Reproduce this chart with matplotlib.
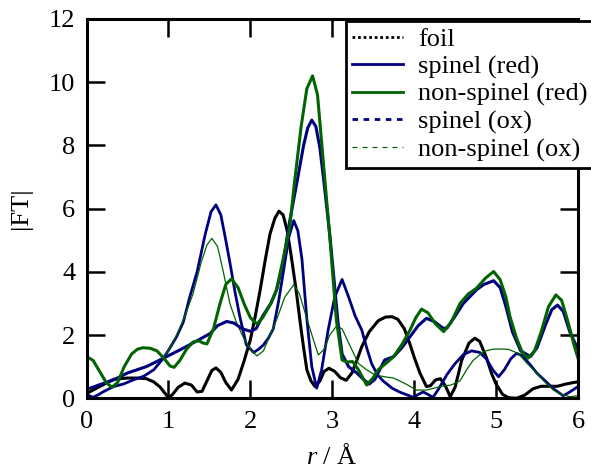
import matplotlib
matplotlib.use("Agg")
import matplotlib.pyplot as plt
from matplotlib.lines import Line2D

# |FT| vs r
r_foil = [0.0, 0.16, 0.33, 0.5, 0.62, 0.73, 0.82, 0.9, 0.96, 1.0, 1.05, 1.12, 1.2, 1.28, 1.35,
          1.41, 1.47, 1.53, 1.58, 1.64, 1.7, 1.77, 1.85, 1.92, 2.0, 2.06, 2.12, 2.18, 2.24, 2.3,
          2.35, 2.4, 2.45, 2.5, 2.56, 2.61, 2.65, 2.69, 2.74, 2.79, 2.85, 2.9, 2.96, 3.03, 3.1,
          3.17, 3.24, 3.3, 3.36, 3.45, 3.56, 3.65, 3.73, 3.8, 3.88, 3.95, 4.0, 4.07, 4.15, 4.2,
          4.26, 4.32, 4.38, 4.44, 4.5, 4.58, 4.67, 4.74, 4.8, 4.88, 4.95, 5.0, 5.08, 5.15, 5.25,
          5.35, 5.45, 5.55, 5.65, 5.75, 5.85, 5.95, 6.0]
ft_foil = [0.15, 0.37, 0.6, 0.64, 0.64, 0.62, 0.52, 0.35, 0.15, 0.02, 0.12, 0.35, 0.48, 0.42, 0.2,
           0.22, 0.55, 0.88, 0.96, 0.82, 0.5, 0.26, 0.6, 1.15, 1.85, 2.6, 3.43, 4.35, 5.2, 5.7,
           5.92, 5.8, 5.3, 4.48, 3.4, 2.37, 1.6, 0.9, 0.55, 0.37, 0.55, 0.85, 0.95, 0.85, 0.65,
           0.57, 0.8, 1.2, 1.63, 2.1, 2.45, 2.57, 2.58, 2.5, 2.2, 1.7, 1.3, 0.8, 0.37, 0.4,
           0.58, 0.62, 0.4, 0.05, 0.35, 1.2, 1.75, 1.9, 1.8, 1.3, 0.75, 0.45, 0.12, 0.02, 0.0,
           0.1, 0.3, 0.38, 0.38, 0.38, 0.45, 0.5, 0.52]

r_sp_red = [0.0, 0.15, 0.33, 0.5, 0.73, 0.94, 1.14, 1.3, 1.51, 1.6, 1.71, 1.8, 1.9, 2.0, 2.07,
            2.15, 2.25, 2.32, 2.4, 2.48, 2.57, 2.65, 2.7, 2.75, 2.8, 2.85, 2.9, 2.97, 3.02, 3.07,
            3.12, 3.2, 3.3, 3.38, 3.45, 3.52, 3.64, 3.75, 3.85, 3.95, 4.05, 4.15, 4.25, 4.35,
            4.4, 4.5, 4.6, 4.76, 4.85, 4.97, 5.05, 5.12, 5.2, 5.3, 5.42, 5.5, 5.6, 5.68, 5.75,
            5.82, 5.9, 6.0]
ft_sp_red = [0.28, 0.42, 0.58, 0.8, 1.0, 1.27, 1.53, 1.75, 2.05, 2.3, 2.43, 2.38, 2.2, 2.12, 2.2,
             2.6, 3.0, 3.43, 4.3, 5.6, 6.85, 8.0, 8.55, 8.8, 8.6, 7.9, 6.8, 5.17, 3.8, 2.4,
             1.4, 1.0, 0.8, 0.6, 0.45, 0.6, 1.21, 1.32, 1.6, 1.95, 2.3, 2.53, 2.42, 2.22,
             2.22, 2.6, 3.0, 3.43, 3.6, 3.72, 3.5, 2.9, 2.1, 1.5, 1.32, 1.6, 2.3, 2.8, 2.95,
             2.75, 2.1, 1.55]

r_nsp_red = [0.0, 0.08, 0.16, 0.24, 0.31, 0.38, 0.46, 0.55, 0.62, 0.69, 0.78, 0.86, 0.95, 1.02,
             1.07, 1.14, 1.22, 1.3, 1.37, 1.42, 1.47, 1.55, 1.63, 1.7, 1.77, 1.85, 1.93, 2.0,
             2.08, 2.15, 2.25, 2.32, 2.4, 2.48, 2.54, 2.62, 2.69, 2.76, 2.82, 2.88, 2.97, 3.05,
             3.12, 3.18, 3.25, 3.32, 3.42, 3.5, 3.56, 3.68, 3.75, 3.85, 3.95, 4.02, 4.09, 4.17,
             4.26, 4.36, 4.45, 4.56, 4.66, 4.76, 4.87, 4.97, 5.05, 5.12, 5.17, 5.25, 5.32, 5.39,
             5.47, 5.55, 5.64, 5.73, 5.8, 5.88, 5.95, 6.0]
ft_nsp_red = [1.32, 1.2, 0.85, 0.5, 0.35, 0.5, 1.0, 1.4, 1.55, 1.6, 1.58, 1.5, 1.25, 1.02,
              0.98, 1.2, 1.55, 1.78, 1.82, 1.75, 1.72, 2.2, 3.0, 3.6, 3.78, 3.5, 2.95, 2.55,
              2.35, 2.55, 3.0, 3.43, 4.4, 5.4, 6.85, 8.6, 9.8, 10.2, 9.6, 7.8, 5.1, 2.48,
              1.21, 1.15, 1.16, 0.9, 0.42, 0.65, 0.9, 1.16, 1.32, 1.7, 2.16, 2.55, 2.82, 2.7,
              2.35, 2.11, 2.4, 3.0, 3.3, 3.48, 3.8, 4.01, 3.75, 3.2, 2.58, 1.9, 1.45, 1.27,
              1.5, 2.1, 2.9, 3.27, 3.1, 2.4, 1.7, 1.27]

r_sp_ox = [0.0, 0.08, 0.15, 0.2, 0.33, 0.45, 0.57, 0.7, 0.82, 0.94, 1.02, 1.1, 1.18, 1.26, 1.35,
           1.45, 1.52, 1.58, 1.64, 1.7, 1.75, 1.81, 1.87, 1.95, 2.04, 2.1, 2.16, 2.22, 2.28, 2.34,
           2.4, 2.47, 2.53, 2.58, 2.63, 2.69, 2.75, 2.81, 2.87, 2.95, 3.03, 3.12, 3.2, 3.28,
           3.36, 3.42, 3.48, 3.55, 3.62, 3.73, 3.82, 3.9, 3.99, 4.05, 4.11, 4.17, 4.23, 4.3,
           4.4, 4.5, 4.6, 4.7, 4.8, 4.88, 4.96, 5.03, 5.1, 5.18, 5.25, 5.32, 5.42, 5.5, 5.6,
           5.7, 5.82, 5.9, 6.0]
ft_sp_ox = [0.12, 0.03, 0.12, 0.2, 0.37, 0.45, 0.58, 0.7, 0.9, 1.27, 1.6, 1.95, 2.4, 3.2, 4.0,
            5.2, 5.9, 6.12, 5.8, 5.0, 4.3, 3.4, 2.6, 1.7, 1.45, 1.55, 1.69, 1.9, 2.2, 3.0,
            3.95, 5.1, 5.62, 5.3, 4.4, 2.5, 1.0, 0.32, 0.9, 2.16, 3.2, 3.76, 3.2, 2.6,
            2.16, 1.6, 1.1, 0.75, 0.55, 0.32, 0.2, 0.12, 0.03, 0.12, 0.2, 0.12, 0.03, 0.3,
            0.75, 1.1, 1.38, 1.5, 1.45, 1.25, 0.9, 0.68, 0.9, 1.25, 1.42, 1.35, 1.05, 0.79, 0.55,
            0.3, 0.08, 0.2, 0.37]

r_nsp_ox = [0.0, 0.1, 0.2, 0.33, 0.5, 0.65, 0.82, 0.94, 1.02, 1.1, 1.2, 1.3, 1.4, 1.47, 1.53,
            1.6, 1.67, 1.75, 1.83, 1.91, 2.0, 2.08, 2.16, 2.24, 2.32, 2.42, 2.53, 2.6, 2.68,
            2.77, 2.83, 2.9, 2.97, 3.05, 3.12, 3.2, 3.32, 3.42, 3.52, 3.64, 3.75, 3.9, 4.03,
            4.15, 4.32, 4.45, 4.56, 4.64, 4.72, 4.85, 4.95, 5.05, 5.15, 5.27, 5.38, 5.5, 5.6,
            5.7, 5.8, 5.9, 6.0]
ft_nsp_ox = [0.25, 0.38, 0.48, 0.58, 0.8, 0.95, 1.1, 1.27, 1.6, 2.0, 2.6, 3.3, 4.3, 4.85, 5.06,
             4.8, 4.0, 3.0, 2.4, 1.95, 1.55, 1.34, 1.5, 2.0, 2.48, 3.2, 3.59, 3.3, 2.6,
             1.85, 1.37, 1.55, 2.0, 2.28, 2.2, 1.75, 1.1, 0.9, 0.74, 0.68, 0.64, 0.45, 0.26,
             0.26, 0.37, 0.42, 0.55, 0.9, 1.2, 1.48, 1.55, 1.56, 1.55, 1.42, 1.1, 0.79, 0.5,
             0.26, 0.12, 0.05, 0.08]

labels = ["foil", "spinel (red)", "non-spinel (red)", "spinel (ox)", "non-spinel (ox)"]

navy = "#000080"
green = "#006400"

plt.rcParams["font.family"] = ["Liberation Serif", "DejaVu Serif"]
plt.rcParams["mathtext.fontset"] = "custom"
plt.rcParams["mathtext.it"] = "Liberation Serif:italic"
plt.rcParams["mathtext.rm"] = "Liberation Serif"

fs = 19

fig = plt.figure(figsize=(5.91, 4.70), dpi=100)
ax = fig.add_axes([0.1464, 0.1526, 0.8316, 0.807])

ax.plot(r_foil, ft_foil, color="black", lw=2.2)
ax.plot(r_sp_ox, ft_sp_ox, color=navy, lw=2.0)
ax.plot(r_nsp_ox, ft_nsp_ox, color=green, lw=0.9)
ax.plot(r_sp_red, ft_sp_red, color=navy, lw=2.2)
ax.plot(r_nsp_red, ft_nsp_red, color=green, lw=2.2)

ax.set_xlim(0, 6)
ax.set_ylim(0, 12)
ax.set_xticks(range(0, 7))
ax.set_yticks(range(0, 13, 2))
ax.tick_params(direction="in", length=13, width=1.8, top=True, right=True,
               labelsize=fs)
ax.tick_params(axis="x", pad=9)
ax.tick_params(axis="y", pad=8)
for s in ax.spines.values():
    s.set_linewidth(2.2)

ax.set_xlabel(r"$r$ / Å", fontsize=fs, labelpad=8)
ax.set_ylabel("|FT|", fontsize=fs, labelpad=12)

handles = [
    Line2D([], [], color="black", lw=2, ls=(0, (1, 1))),
    Line2D([], [], color=navy, lw=2),
    Line2D([], [], color=green, lw=2),
    Line2D([], [], color=navy, lw=2, ls=(0, (2, 2))),
    Line2D([], [], color=green, lw=0.9, ls=(0, (4, 4))),
]
leg = fig.legend(handles, labels, loc="upper right", bbox_to_anchor=(1.006, 0.955),
                 fontsize=fs, frameon=True, fancybox=False, edgecolor="black",
                 borderaxespad=0, labelspacing=0.14, handlelength=1.9, handletextpad=0.6,
                 borderpad=0.25)
leg.get_frame().set_linewidth(2)
leg.get_frame().set_alpha(1)

fig.savefig("out.png", dpi=100)
